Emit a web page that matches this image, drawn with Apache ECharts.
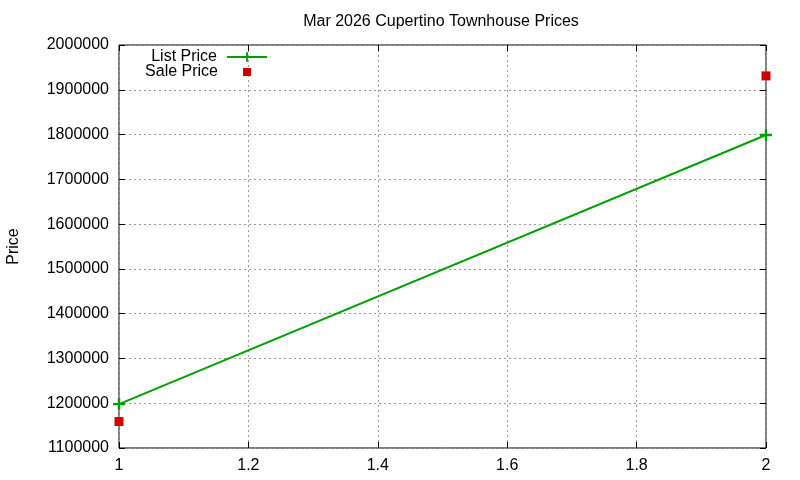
<!DOCTYPE html>
<html><head><meta charset="utf-8">
<script src="https://cdn.jsdelivr.net/npm/echarts@6/dist/echarts.min.js"></script>
<style>html,body{margin:0;padding:0;background:#fff}#c{width:800px;height:480px}</style>
</head><body><div id="c"></div>
<script>
const title = 'Mar 2026 Cupertino Townhouse Prices';
const xValues = [1, 2];
const listPrice = [1198000, 1799000];
const salePrice = [1159000, 1931000];
const yLabel = 'Price';

const chart = echarts.init(document.getElementById('c'));
const FONT = 'Liberation Sans';
const plus = 'path://M4,0h2v10h-2z M0,4h10v2h-10z';
const tickStyle = {show: true, inside: true, length: 6, lineStyle: {color: '#000', width: 1}};
const gridLine = {show: true, lineStyle: {color: '#999', type: [2, 3], width: 1}};
chart.setOption({
  animation: false,
  textStyle: {fontFamily: FONT},
  title: {text: title, left: 436, textAlign: 'center', top: 9,
    textStyle: {fontFamily: FONT, fontSize: 16, fontWeight: 'normal', color: '#000'}},
  grid: {left: 119, right: 34, top: 45, bottom: 32, show: true, borderColor: '#000', borderWidth: 1,
    backgroundColor: 'transparent', containLabel: false, outerBoundsMode: 'none'},
  legend: [
    {data: [{name: 'List Price'}], orient: 'vertical', align: 'right', right: 527, top: 44, itemWidth: 40, itemHeight: 12,
      textStyle: {fontFamily: FONT, fontSize: 16, color: '#000', padding: [0, 5, 0, 0]}},
    {data: [{name: 'Sale Price', icon: 'rect'}], orient: 'vertical', align: 'right', right: 544, top: 59, itemWidth: 8, itemHeight: 8,
      textStyle: {fontFamily: FONT, fontSize: 16, color: '#000', padding: [0, 20, 0, 0]}}
  ],
  xAxis: [
    {type: 'value', min: 1, max: 2, interval: 0.2, position: 'bottom',
      axisLine: {show: false}, axisTick: tickStyle, splitLine: gridLine,
      axisLabel: {fontFamily: FONT, fontSize: 16, color: '#000', margin: 10,
        formatter: v => String(Math.round(v * 10) / 10)}},
    {type: 'value', min: 1, max: 2, interval: 0.2, position: 'top',
      axisLine: {show: false}, axisTick: tickStyle, splitLine: {show: false}, axisLabel: {show: false}}
  ],
  yAxis: [
    {type: 'value', min: 1100000, max: 2000000, interval: 100000, position: 'left',
      axisLine: {show: false}, axisTick: tickStyle, splitLine: gridLine,
      axisLabel: {fontFamily: FONT, fontSize: 16, color: '#000', margin: 10, formatter: v => String(v)},
      name: yLabel, nameLocation: 'middle', nameGap: 97, nameRotate: 90,
      nameTextStyle: {fontFamily: FONT, fontSize: 16, color: '#000'}},
    {type: 'value', min: 1100000, max: 2000000, interval: 100000, position: 'right',
      axisLine: {show: false}, axisTick: tickStyle, splitLine: {show: false}, axisLabel: {show: false}}
  ],
  series: [
    {name: 'List Price', type: 'line', data: xValues.map((x, i) => [x, listPrice[i]]),
      symbol: plus, symbolSize: 12, showSymbol: true,
      itemStyle: {color: '#00a000', opacity: 1}, lineStyle: {color: '#00a000', width: 2}},
    {name: 'Sale Price', type: 'scatter', data: xValues.map((x, i) => [x, salePrice[i]]),
      symbol: 'rect', symbolSize: 9, itemStyle: {color: '#cc0000', opacity: 1}}
  ]
});
</script></body></html>
